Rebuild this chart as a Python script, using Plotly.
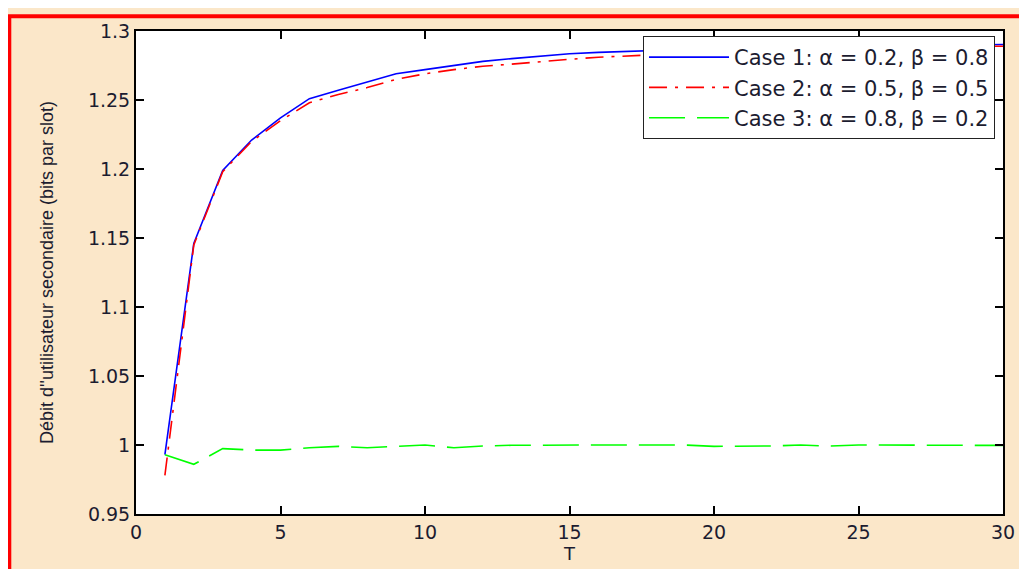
import plotly.graph_objects as go

# ---- data ----
T = list(range(1, 31))
case1 = [0.993, 1.146, 1.199, 1.221, 1.237, 1.251, 1.257, 1.263, 1.269, 1.272,
         1.275, 1.278, 1.280, 1.282, 1.2835, 1.2845, 1.2853, 1.286, 1.2866, 1.2871,
         1.2876, 1.288, 1.2884, 1.2887, 1.289, 1.2893, 1.2896, 1.2899, 1.2901, 1.2902]
case2 = [0.978, 1.145, 1.198, 1.220, 1.235, 1.248, 1.254, 1.259, 1.265, 1.269,
         1.272, 1.2745, 1.276, 1.278, 1.2795, 1.281, 1.282, 1.283, 1.284, 1.2848,
         1.2855, 1.286, 1.2866, 1.287, 1.2875, 1.288, 1.2883, 1.2886, 1.2888, 1.289]
case3 = [0.993, 0.986, 0.9974, 0.9963, 0.9963, 0.998, 0.999, 0.998, 0.999, 1.000,
         0.998, 0.9993, 0.9998, 1.0, 1.0, 1.0, 1.0, 1.0, 1.0, 0.999,
         0.999, 0.9993, 1.0, 0.9992, 1.0, 1.0, 1.0, 1.0, 1.0, 0.9997]

names = ["Case 1: α = 0.2, β = 0.8",
         "Case 2: α = 0.5, β = 0.5",
         "Case 3: α = 0.8, β = 0.2"]
x_ticks = [0, 5, 10, 15, 20, 25, 30]
y_ticks = [0.95, 1.0, 1.05, 1.1, 1.15, 1.2, 1.25, 1.3]
y_tick_text = ["0.95", "1", "1.05", "1.1", "1.15", "1.2", "1.25", "1.3"]
x_title = "T"
y_title = "Débit d''utilisateur secondaire (bits par slot)"

# ---- figure (page body has an 8px margin, so the figure starts at page 8,8) ----
OFF = 8
W, H = 1027 - OFF, 569 - OFF
ml, mr, mt, mb = 136 - OFF, 22, 27 - OFF, 52
pw, ph = W - ml - mr, H - mt - mb

def px_x(p):  # page pixel -> paper x
    return (p - OFF - ml) / pw

def px_y(p):  # page pixel -> paper y
    return (H - mb - (p - OFF)) / ph

fig = go.Figure()
fig.add_trace(go.Scatter(x=T, y=case1, mode="lines", name=names[0],
                         line=dict(color="#0000FF", width=1.6)))
fig.add_trace(go.Scatter(x=T, y=case2, mode="lines", name=names[1],
                         line=dict(color="#FF0000", width=1.6, dash="18px,8px,3px,8px")))
fig.add_trace(go.Scatter(x=T, y=case3, mode="lines", name=names[2],
                         line=dict(color="#00FF00", width=1.6, dash="36px,12px")))

txt_color = "#1c1c30"
tick_font = dict(family="DejaVu Sans", size=19, color=txt_color)

fig.update_layout(
    width=W, height=H,
    margin=dict(l=ml, r=mr, t=mt, b=mb, pad=0),
    paper_bgcolor="#FBE7C9",
    plot_bgcolor="white",
    showlegend=True,
    legend=dict(
        x=px_x(997), xanchor="right", y=px_y(32), yanchor="top",
        bgcolor="white", bordercolor="#222", borderwidth=1,
        font=dict(family="DejaVu Sans", size=21, color=txt_color),
        itemwidth=80, tracegroupgap=0,
    ),
    xaxis=dict(
        range=[0, 30], tickvals=x_ticks, ticks="inside", ticklen=8, tickwidth=1.5,
        tickcolor="black", showline=True, linecolor="black", linewidth=2,
        mirror="allticks", showgrid=False, zeroline=False, tickfont=tick_font,
        title=dict(text=x_title, font=dict(family="DejaVu Sans", size=18, color=txt_color),
                   standoff=2),
    ),
    yaxis=dict(
        range=[0.95, 1.3], tickvals=y_ticks, ticktext=y_tick_text, ticks="inside",
        ticklen=8, tickwidth=1.5, tickcolor="black", showline=True, linecolor="black",
        linewidth=2, mirror="allticks", showgrid=False, zeroline=False,
        tickfont=tick_font,
        title=dict(text=y_title, font=dict(family="Liberation Sans", size=18, color=txt_color),
                   standoff=30),
    ),
    shapes=[
        # red frame: left and top edges
        dict(type="line", xref="paper", yref="paper",
             x0=px_x(9), x1=px_x(9), y0=px_y(12), y1=px_y(600),
             line=dict(color="#FF0000", width=4)),
        dict(type="line", xref="paper", yref="paper",
             x0=px_x(7), x1=px_x(1040), y0=px_y(12), y1=px_y(12),
             line=dict(color="#FF0000", width=4)),
    ],
)

fig.write_html("out.html")
